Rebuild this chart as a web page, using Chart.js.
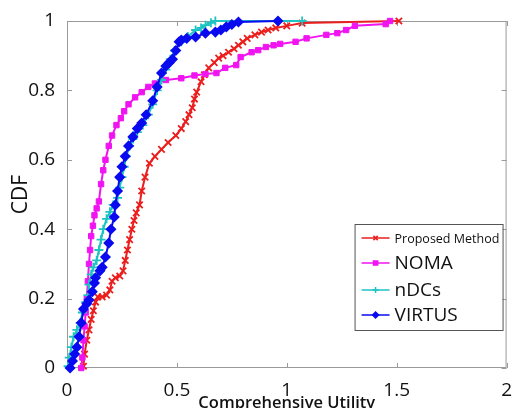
<!DOCTYPE html>
<html>
<head>
<meta charset="utf-8">
<script src="https://cdn.jsdelivr.net/npm/chart.js@4.4.0/dist/chart.umd.min.js"></script>
<style>
  html, body { margin: 0; padding: 0; background: #fff; }
  #wrap { width: 515px; height: 408px; position: relative; }
</style>
</head>
<body>
<div id="wrap"><canvas id="cdfChart"></canvas></div>
<script>
// tick labels
var xTicks = [0, 0.5, 1, 1.5, 2];
var yTicks = [0, 0.2, 0.4, 0.6, 0.8, 1];

// series, [utility, cdf]
var proposed = [[0.075,0.005],[0.08,0.04],[0.09,0.08],[0.10,0.11],[0.11,0.14],[0.12,0.165],[0.13,0.19],[0.14,0.205],
  [0.16,0.205],[0.18,0.21],[0.195,0.225],[0.205,0.25],[0.22,0.26],[0.24,0.265],[0.255,0.28],[0.265,0.31],[0.275,0.34],
  [0.285,0.37],[0.295,0.40],[0.305,0.425],[0.315,0.447],[0.33,0.47],[0.34,0.51],[0.355,0.55],[0.375,0.59],[0.40,0.61],
  [0.43,0.63],[0.46,0.65],[0.495,0.67],[0.52,0.69],[0.54,0.71],[0.555,0.73],[0.57,0.75],[0.58,0.775],[0.59,0.795],
  [0.61,0.825],[0.625,0.845],[0.645,0.865],[0.67,0.88],[0.69,0.893],[0.71,0.90],[0.735,0.91],[0.76,0.92],[0.78,0.93],
  [0.80,0.94],[0.82,0.95],[0.855,0.96],[0.885,0.968],[0.915,0.974],[0.95,0.98],[1.0,0.986],[1.07,0.994],[1.51,1.0]];
var noma = [[0.065,0.0],[0.07,0.03],[0.075,0.08],[0.08,0.12],[0.085,0.16],[0.09,0.2],[0.095,0.25],[0.10,0.30],
  [0.105,0.34],[0.11,0.38],[0.118,0.41],[0.125,0.44],[0.135,0.46],[0.145,0.48],[0.155,0.53],[0.165,0.57],[0.175,0.60],
  [0.19,0.64],[0.205,0.67],[0.225,0.70],[0.245,0.72],[0.26,0.74],[0.28,0.76],[0.31,0.78],[0.34,0.795],[0.37,0.81],
  [0.40,0.82],[0.45,0.83],[0.52,0.835],[0.58,0.843],[0.63,0.847],[0.68,0.85],[0.72,0.865],[0.77,0.873],[0.79,0.896],
  [0.84,0.91],[0.87,0.916],[0.905,0.925],[0.94,0.93],[0.97,0.934],[1.04,0.94],[1.09,0.95],[1.18,0.96],[1.23,0.965],
  [1.27,0.974],[1.31,0.986],[1.45,0.991],[1.47,1.0]];
var ndcs = [[0.005,0.005],[0.01,0.03],[0.02,0.06],[0.03,0.09],[0.045,0.11],[0.06,0.13],[0.07,0.16],[0.085,0.19],
  [0.095,0.21],[0.10,0.24],[0.11,0.27],[0.12,0.29],[0.135,0.31],[0.145,0.34],[0.155,0.37],[0.165,0.40],[0.18,0.43],
  [0.195,0.45],[0.21,0.47],[0.23,0.49],[0.24,0.52],[0.25,0.55],[0.26,0.58],[0.27,0.61],[0.285,0.64],[0.30,0.66],
  [0.32,0.68],[0.345,0.70],[0.37,0.73],[0.39,0.76],[0.41,0.80],[0.43,0.83],[0.45,0.86],[0.47,0.89],[0.49,0.915],
  [0.52,0.94],[0.55,0.955],[0.585,0.974],[0.61,0.98],[0.63,0.988],[0.655,0.995],[0.675,1.0],[1.07,1.0]];
var virtus = [[0.014,0.0],[0.025,0.02],[0.035,0.04],[0.045,0.06],[0.055,0.09],[0.065,0.13],[0.075,0.17],[0.09,0.185],
  [0.10,0.196],[0.115,0.22],[0.125,0.245],[0.13,0.26],[0.15,0.28],[0.16,0.29],[0.175,0.32],[0.19,0.36],[0.20,0.40],
  [0.215,0.435],[0.22,0.47],[0.23,0.51],[0.24,0.55],[0.25,0.58],[0.265,0.61],[0.28,0.64],[0.30,0.666],[0.32,0.69],
  [0.34,0.706],[0.36,0.73],[0.39,0.77],[0.41,0.81],[0.43,0.85],[0.45,0.87],[0.465,0.88],[0.48,0.89],[0.495,0.915],
  [0.51,0.94],[0.52,0.945],[0.545,0.95],[0.585,0.954],[0.63,0.965],[0.675,0.968],[0.70,0.974],[0.725,0.983],
  [0.75,0.99],[0.78,0.997],[0.96,1.0]];

function toPts(arr) {
  return arr.map(function (p) { return { x: p[0], y: p[1] }; });
}

// gray box round the plot with small inward ticks
var frame = {
  id: 'frame',
  beforeDatasetsDraw: function (chart) {
    var ctx = chart.ctx, a = chart.chartArea;
    var sx = chart.scales.x, sy = chart.scales.y;
    ctx.save();
    ctx.strokeStyle = '#9a9a9a';
    ctx.lineWidth = 1;
    ctx.strokeRect(a.left + 0.5, a.top + 0.5, a.right - a.left - 1, a.bottom - a.top - 1);
    ctx.beginPath();
    sx.ticks.forEach(function (t) {
      var px = Math.round(sx.getPixelForValue(t.value)) + 0.5;
      ctx.moveTo(px, a.bottom); ctx.lineTo(px, a.bottom - 5);
      ctx.moveTo(px, a.top); ctx.lineTo(px, a.top + 5);
    });
    sy.ticks.forEach(function (t) {
      var py = Math.round(sy.getPixelForValue(t.value)) + 0.5;
      ctx.moveTo(a.left, py); ctx.lineTo(a.left + 5, py);
      ctx.moveTo(a.right, py); ctx.lineTo(a.right - 5, py);
    });
    ctx.stroke();
    ctx.restore();
  }
};

// legend box in the lower right, mixed font sizes like the original
var legendBox = {
  id: 'legendBox',
  afterDraw: function (chart) {
    var ctx = chart.ctx, a = chart.chartArea;
    var left = a.right - 152, top = a.bottom - 144, w = 148, h = 106;
    var rows = [14, 39, 66, 91];
    var sizes = [12.5, 19, 19, 19];
    ctx.save();
    ctx.fillStyle = '#fff';
    ctx.fillRect(left, top, w, h);
    ctx.strokeStyle = '#555';
    ctx.lineWidth = 1;
    ctx.strokeRect(left + 0.5, top + 0.5, w, h);
    chart.data.datasets.forEach(function (ds, i) {
      var y = top + rows[i];
      ctx.strokeStyle = ds.borderColor;
      ctx.lineWidth = 1.5;
      ctx.beginPath();
      ctx.moveTo(left + 7, y); ctx.lineTo(left + 35, y);
      ctx.stroke();
      if (Chart.helpers && Chart.helpers.drawPoint) {
        ctx.fillStyle = ds.borderColor;
        Chart.helpers.drawPoint(ctx, { pointStyle: ds.pointStyle, radius: 3, rotation: 0, borderWidth: 1.5 }, left + 21, y);
      }
      ctx.fillStyle = '#111';
      ctx.font = sizes[i] + 'px "Open Sans"';
      ctx.textBaseline = 'middle';
      ctx.textAlign = 'left';
      ctx.fillText(ds.label, left + 40, y + 1);
    });
    ctx.restore();
  }
};

var ctx = document.getElementById('cdfChart');
var cdfChart = new Chart(ctx, {
  type: 'line',
  data: {
    datasets: [
      {
        label: 'Proposed Method',
        data: toPts(proposed),
        borderColor: 'rgb(235, 30, 30)',
        backgroundColor: 'rgb(235, 30, 30)',
        pointStyle: 'crossRot',
        pointRadius: 4.5,
        pointBorderWidth: 1.8,
        borderWidth: 2,
        order: 4
      },
      {
        label: 'NOMA',
        data: toPts(noma),
        borderColor: 'rgb(240, 20, 240)',
        backgroundColor: 'rgb(240, 20, 240)',
        pointStyle: 'rect',
        pointRadius: 3.8,
        pointBorderWidth: 1,
        borderWidth: 2,
        order: 3
      },
      {
        label: 'nDCs',
        data: toPts(ndcs),
        borderColor: 'rgb(30, 195, 195)',
        backgroundColor: 'rgb(30, 195, 195)',
        pointStyle: 'cross',
        pointRadius: 4.5,
        pointBorderWidth: 1.8,
        borderWidth: 2,
        order: 2
      },
      {
        label: 'VIRTUS',
        data: toPts(virtus),
        borderColor: 'rgb(10, 10, 240)',
        backgroundColor: 'rgb(10, 10, 240)',
        pointStyle: 'rectRot',
        pointRadius: 4.5,
        pointBorderWidth: 1.5,
        borderWidth: 2,
        order: 1
      }
    ]
  },
  options: {
    responsive: true,
    maintainAspectRatio: false,
    animation: false,
    clip: false,
    layout: { padding: { top: 21, right: 5, left: 0, bottom: 0 } },
    elements: { line: { tension: 0 } },
    plugins: {
      legend: { display: false },
      tooltip: { enabled: false }
    },
    scales: {
      x: {
        type: 'linear',
        min: 0,
        max: 2,
        grid: { display: false },
        border: { display: false },
        afterBuildTicks: function (scale) {
          scale.ticks = xTicks.map(function (v) { return { value: v }; });
        },
        afterFit: function (scale) { scale.height = 40; },
        ticks: {
          padding: 3,
          maxRotation: 0,
          color: '#111',
          font: { family: 'Open Sans', size: 19 },
          callback: function (v) { return String(v); }
        },
        title: {
          display: true,
          text: 'Comprehensive Utility',
          color: '#111',
          padding: { top: 0, bottom: 0 },
          font: { family: 'Open Sans', size: 16.5, weight: '600', lineHeight: 0.625 }
        }
      },
      y: {
        type: 'linear',
        min: 0,
        max: 1,
        grid: { display: false },
        border: { display: false },
        afterBuildTicks: function (scale) {
          scale.ticks = yTicks.map(function (v) { return { value: v }; });
        },
        afterFit: function (scale) { scale.width = 67; },
        ticks: {
          padding: 4,
          color: '#111',
          font: { family: 'Open Sans', size: 19 },
          callback: function (v) { return String(v); }
        },
        title: {
          display: true,
          text: 'CDF',
          color: '#111',
          padding: { top: 8, bottom: 0 },
          font: { family: 'Open Sans', size: 21 }
        }
      }
    }
  },
  plugins: [frame, legendBox]
});
</script>
</body>
</html>
